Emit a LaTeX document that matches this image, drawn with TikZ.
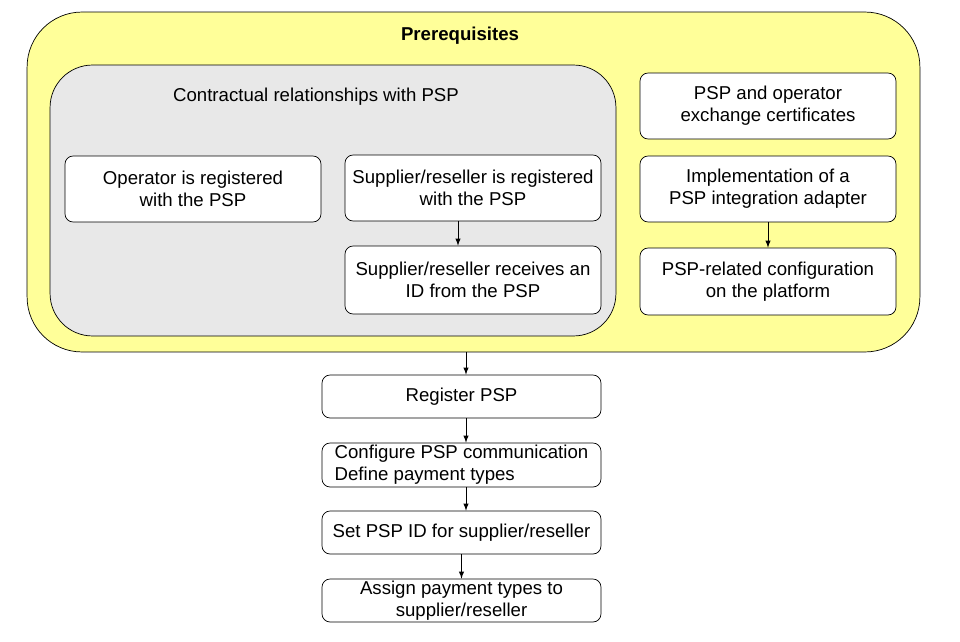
\documentclass[tikz,border=0pt]{standalone}
\usepackage{fontspec}
\setmainfont{Liberation Sans}
\usepackage{tikz}
\usetikzlibrary{calc}
\definecolor{prefill}{HTML}{FFFF99}
\definecolor{contfill}{HTML}{E8E8E8}

\begin{document}
\begin{tikzpicture}[>=latex,x=0.02cm,y=-0.02cm,
    font=\fontsize{10.6}{12.5}\selectfont,
    stepbox/.style={draw,rounded corners=0.16cm,fill=white,align=center,
      minimum width=5.12cm,minimum height=1.32cm,inner sep=1pt},
    flowbox/.style={draw,rounded corners=0.16cm,fill=white,align=center,
      minimum width=5.58cm,minimum height=0.86cm,inner sep=1pt}]
        \useasboundingbox (0,0) rectangle (960,642);
        % containers
        \node[draw,fill=prefill,rounded corners=1.1cm,minimum width=17.86cm,minimum height=6.8cm] (prereq) at (473.5,182) {};
        \node[font=\fontsize{10.6}{12.5}\selectfont\bfseries] (title) at (460,36) {Prerequisites};
        \node[draw,fill=contfill,rounded corners=0.85cm,minimum width=11.32cm,minimum height=5.42cm] (contract) at (333,200.5) {};
        \node (ctitle) at (316,97) {Contractual relationships with PSP};
        % contractual steps
        \node[stepbox] (opreg) at (193,189) {Operator is registered\\with the PSP};
        \node[stepbox] (sreg) at (473,188) {Supplier/reseller is registered\\with the PSP};
        \node[stepbox,minimum height=1.36cm] (sid) at (473,280) {Supplier/reseller receives an\\ID from the PSP};
        % technical steps
        \node[stepbox] (cert) at (768,106) {PSP and operator\\exchange certificates};
        \node[stepbox] (adapt) at (768,189) {Implementation of a\\PSP integration adapter};
        \node[stepbox,minimum height=1.34cm] (conf) at (768,281.5) {PSP-related configuration\\on the platform};
        % platform steps
        \node[flowbox] (reg) at (461.5,396.5) {Register PSP};
        \node[flowbox,minimum height=0.88cm,align=left] (comm) at (461.5,465) {Configure PSP communication\\Define payment types};
        \node[flowbox] (setid) at (461.5,532.5) {Set PSP ID for supplier/reseller};
        \node[flowbox] (assign) at (461.5,600.5) {Assign payment types to\\supplier/reseller};
        \draw[->] ([xshift=-0.3cm]sreg.south) -- ([xshift=-0.3cm]sid.north);
        \draw[->] (adapt) -- (conf);
        \draw[->] ([xshift=0.09cm]prereq.south -| reg) -- ([xshift=0.09cm]reg.north);
        \draw[->] ([xshift=0.09cm]reg.south) -- ([xshift=0.09cm]comm.north);
        \draw[->] ([xshift=0.09cm]comm.south) -- ([xshift=0.09cm]setid.north);
        \draw[->] (setid) -- (assign);
      \end{tikzpicture}
\end{document}
